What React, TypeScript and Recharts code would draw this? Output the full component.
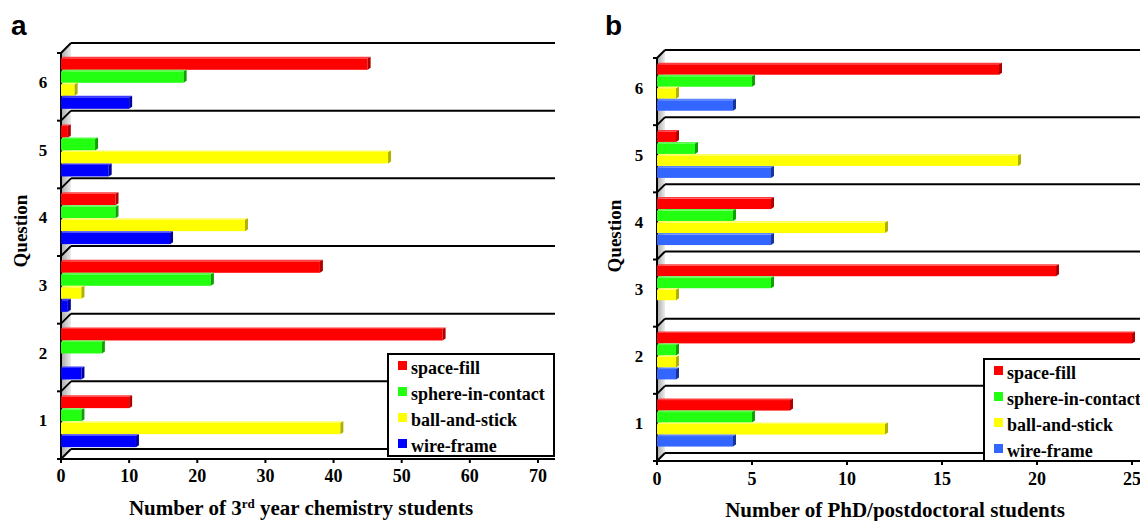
import React from 'react';
import { BarChart, Bar, XAxis, YAxis, Legend } from 'recharts';

const questions = ['1', '2', '3', '4', '5', '6'];
const seriesNames = ['space-fill', 'sphere-in-contact', 'ball-and-stick', 'wire-frame'];

// a: 3rd year chemistry students
const spaceFillA = [10, 56, 38, 8, 1, 45];
const sphereA = [3, 6, 22, 8, 5, 18];
const ballStickA = [41, 0, 3, 27, 48, 2];
const wireFrameA = [11, 3, 1, 16, 7, 10];
const ticksA = [0, 10, 20, 30, 40, 50, 60, 70];

// b: PhD/postdoctoral students
const spaceFillB = [7, 25, 21, 6, 1, 18];
const sphereB = [5, 1, 6, 4, 2, 5];
const ballStickB = [12, 1, 1, 12, 19, 1];
const wireFrameB = [4, 1, 0, 6, 6, 4];
const ticksB = [0, 5, 10, 15, 20, 25];

const serif = "'Liberation Serif', 'Times New Roman', serif";
const keys = ['spaceFill', 'sphere', 'ballStick', 'wireFrame'];

const red = { face: '#ff0000', top: '#ff3b3b', side: '#b00000' };
const green = { face: '#22ff11', top: '#55ff48', side: '#11a000' };
const yellow = { face: '#ffff00', top: '#ffff5a', side: '#b0b000' };
const coloursA = [red, green, yellow, { face: '#0000ff', top: '#3a3aff', side: '#0000a0' }];
const coloursB = [red, green, yellow, { face: '#3366ff', top: '#5a85ff', side: '#1a3399' }];

const buildRows = (s: number[][]) =>
	questions.map((q, i) => ({ q, spaceFill: s[0][i], sphere: s[1][i], ballStick: s[2][i], wireFrame: s[3][i] }));

const rowsA = buildRows([spaceFillA, sphereA, ballStickA, wireFrameA]);
const rowsB = buildRows([spaceFillB, sphereB, ballStickB, wireFrameB]);

function Bar3D(props: any) {
	const { x, y, width, height, c } = props;
	if (!height || !width || width < 0.5) return null;
	const r = x + width;
	return (
		<g>
			<rect x={x} y={y + 1.5} width={width} height={height - 1.5} fill={c.face} />
			<polygon points={`${x},${y + 1.5} ${x + 2},${y} ${r + 3},${y} ${r},${y + 1.5}`} fill={c.top} />
			<polygon points={`${r},${y + 1.5} ${r + 3},${y} ${r + 3},${y + height - 2} ${r},${y + height}`} fill={c.side} />
		</g>
	);
}

const makeLegend = (width: number) => ({ payload }: any) => {
	const items = [...(payload ?? [])].sort(
		(a: any, b: any) => seriesNames.indexOf(a.value) - seriesNames.indexOf(b.value),
	);
	return (
		<div
			style={{
				width,
				height: 104,
				boxSizing: 'border-box',
				border: '2px solid #000',
				background: '#fff',
				fontFamily: serif,
				fontWeight: 700,
				fontSize: 18,
				color: '#000',
			}}
		>
			{items.map((entry: any) => (
				<div key={entry.value} style={{ height: 26, display: 'flex', alignItems: 'center', paddingLeft: 9, whiteSpace: 'nowrap' }}>
					<span style={{ width: 9, height: 9, background: entry.color, marginRight: 4, marginTop: -6, flex: 'none' }} />
					<span>{entry.value}</span>
				</div>
			))}
		</div>
	);
};

type PanelProps = {
	rows: any[];
	colours: any[];
	ticks: number[];
	max: number;
	left: number;
	plotTop: number;
	yAxisWidth: number;
	xAxisHeight: number;
	marginRight: number;
	depth: number;
	legend: { left: number; top: number; width: number };
};

function Panel(p: PanelProps) {
	const plotBottom = 521 - p.xAxisHeight;
	const XTick = ({ x, payload }: any) => (
		<g>
			<line x1={x} x2={x} y1={plotBottom + p.depth / 2} y2={plotBottom + p.depth / 2 + 4} stroke='#000' strokeWidth={2} />
			<text x={x} y={plotBottom + 28} textAnchor='middle' fontFamily={serif} fontWeight={700} fontSize={18} fill='#000'>
				{payload.value}
			</text>
		</g>
	);
	const YTick = ({ y, payload }: any) => (
		<text x={p.yAxisWidth - 18} y={y + 6} textAnchor='middle' fontFamily={serif} fontWeight={700} fontSize={17} fill='#000'>
			{payload.value}
		</text>
	);
	return (
		<div style={{ position: 'absolute', left: p.left, top: 0, zIndex: 1 }}>
			<BarChart
				width={570}
				height={521}
				data={p.rows}
				layout='vertical'
				margin={{ top: p.plotTop, right: p.marginRight, left: 0, bottom: 0 }}
				barCategoryGap='13%'
				barGap={0}
			>
				<XAxis
					type='number'
					domain={[0, p.max]}
					ticks={p.ticks}
					interval={0}
					height={p.xAxisHeight}
					axisLine={false}
					tickLine={false}
					tickSize={0}
					tickMargin={0}
					tick={<XTick />}
				/>
				<YAxis
					type='category'
					dataKey='q'
					reversed
					width={p.yAxisWidth}
					axisLine={false}
					tickLine={false}
					tickSize={0}
					tickMargin={0}
					tick={<YTick />}
				/>
				<Legend
					layout='vertical'
					align='center'
					verticalAlign='middle'
					content={makeLegend(p.legend.width)}
					wrapperStyle={{ position: 'absolute', left: p.legend.left, top: p.legend.top, width: p.legend.width, height: 104, margin: 0 }}
				/>
				{keys.map((k, i) => (
					<Bar
						key={k}
						dataKey={k}
						name={seriesNames[i]}
						fill={p.colours[i].face}
						legendType='square'
						isAnimationActive={false}
						shape={(props: any) => <Bar3D {...props} c={p.colours[i]} />}
					/>
				))}
			</BarChart>
		</div>
	);
}

// 3D frame drawn behind the bars: side wall, band lines, axes
function Frame({ L, top, bottom, d, R }: { L: number; top: number; bottom: number; d: number; R: number }) {
	const tf = top + d / 2;
	const bf = bottom + d / 2;
	const band = (bf - tf) / questions.length;
	const bounds = Array.from({ length: questions.length + 1 }, (_, i) => tf + i * band);
	return (
		<g>
			<polygon points={`${L},${tf} ${L + d},${tf - d} ${L + d},${bf - d} ${L},${bf}`} fill='url(#wall)' />
			{bounds.map((y, i) => (
				<g key={i}>
					<line x1={L + d} x2={R} y1={y - d} y2={y - d} stroke='#000' strokeWidth={2} />
					<line x1={L} x2={L + d} y1={y} y2={y - d} stroke='#000' strokeWidth={2} />
					<line x1={L - 4} x2={L} y1={y} y2={y} stroke='#000' strokeWidth={2} />
				</g>
			))}
			<line x1={L} x2={L} y1={tf} y2={bf + 3} stroke='#000' strokeWidth={2} />
			<line x1={L - 4} x2={R} y1={bf} y2={bf} stroke='#000' strokeWidth={2} />
		</g>
	);
}

export default function App() {
	return (
		<div style={{ position: 'absolute', left: 0, top: 0, width: 1140, height: 521, overflow: 'hidden', background: '#fff' }}>
			<svg width={1140} height={521} style={{ position: 'absolute', left: 0, top: 0, zIndex: 0 }}>
				<defs>
					<linearGradient id='wall' x1='0' x2='1' y1='0' y2='0'>
						<stop offset='0%' stopColor='#a8a8a8' />
						<stop offset='100%' stopColor='#ececec' />
					</linearGradient>
				</defs>
				<Frame L={61} top={48} bottom={454} d={10} R={555} />
				<Frame L={657} top={54} bottom={457} d={8} R={1140} />
				<g fontFamily="'Liberation Sans', Arial, sans-serif" fontWeight={700} fontSize={28} fill='#000'>
					<text x={11} y={35}>a</text>
					<text x={605} y={35}>b</text>
				</g>
				<g fontFamily={serif} fontWeight={700} fontSize={19} fill='#000' textAnchor='middle'>
					<text transform='translate(27,231) rotate(-90)'>Question</text>
					<text transform='translate(621,236) rotate(-90)'>Question</text>
				</g>
				<g fontFamily={serif} fontWeight={700} fontSize={21} fill='#000' textAnchor='middle'>
					<text x={301} y={515}>
						Number of 3<tspan dy={-7} fontSize={13}>rd</tspan>
						<tspan dy={7}> year chemistry students</tspan>
					</text>
					<text x={895} y={517}>Number of PhD/postdoctoral students</text>
				</g>
			</svg>
			<Panel
				rows={rowsA}
				colours={coloursA}
				ticks={ticksA}
				max={72.5}
				left={0}
				plotTop={48}
				yAxisWidth={61}
				xAxisHeight={67}
				marginRight={15}
				depth={10}
				legend={{ left: 387, top: 353, width: 168 }}
			/>
			<Panel
				rows={rowsB}
				colours={coloursB}
				ticks={ticksB}
				max={25.42}
				left={570}
				plotTop={54}
				yAxisWidth={87}
				xAxisHeight={64}
				marginRight={0}
				depth={8}
				legend={{ left: 413, top: 358, width: 175 }}
			/>
		</div>
	);
}
